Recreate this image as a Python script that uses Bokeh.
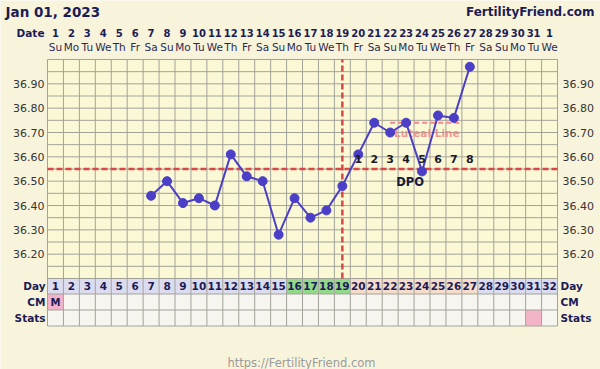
from bokeh.plotting import figure
from bokeh.models import Range1d, ColumnDataSource
from bokeh.core.properties import value
from bokeh.embed import file_html
from bokeh.resources import INLINE

# ---------------- data ----------------
title_date = "Jan 01, 2023"
site = "FertilityFriend.com"
footer = "https://FertilityFriend.com"

cycle_days = list(range(1, 33))
date_labels = [str(d) for d in range(1, 32)] + ["1"]
weekday_labels = ["Su", "Mo", "Tu", "We", "Th", "Fr", "Sa"] * 4 + ["Su", "Mo", "Tu", "We"]

temp_days = [7, 8, 9, 10, 11, 12, 13, 14, 15, 16, 17, 18, 19, 20, 21, 22, 23, 24, 25, 26, 27]
temps = [36.44, 36.50, 36.41, 36.43, 36.40, 36.61, 36.52, 36.50, 36.28, 36.43, 36.35,
         36.38, 36.48, 36.61, 36.74, 36.70, 36.74, 36.54, 36.77, 36.76, 36.97]

temp_ticks = [36.20, 36.30, 36.40, 36.50, 36.60, 36.70, 36.80, 36.90]
temp_min, temp_max = 36.10, 37.00
grid_step = 0.05

coverline = 36.55
ovulation_day = 19
luteal_level = 36.74
luteal_start, luteal_end = 22, 26.5

dpo_days = [20, 21, 22, 23, 24, 25, 26, 27]
dpo_labels = ["1", "2", "3", "4", "5", "6", "7", "8"]

fertile_days = [16, 17, 18, 19]
luteal_days = [20, 21, 22, 23, 24, 25, 26, 27]
cm_days = [1]
cm_labels = ["M"]
stats_days = [31]

# ---------------- geometry helpers ----------------
W = 510 / 32.0           # px per day
S = 219 / 0.9            # px per degree
GRID_LEFT_PX, GRID_TOP_PX = 47, 59


def ty(py):
    return temp_max - (py - GRID_TOP_PX) / S


def dx(px):
    return 0.5 + (px - GRID_LEFT_PX) / W


PAGE = "#f8f4dc"
GRIDBG = "#fbf8d5"
GRIDLINE = "#a3a39a"
NAVY = "#1c1c55"
LINEC = "#4a3fc6"
RED = "#d84848"
FONT = value("DejaVu Sans")

p = figure(width=600, height=369, x_range=Range1d(dx(0), dx(600)),
           y_range=Range1d(ty(369), ty(0)), output_backend="svg",
           toolbar_location=None, min_border=0)
p.axis.visible = False
p.grid.visible = False
p.outline_line_color = None
p.background_fill_color = PAGE
p.border_fill_color = PAGE

x_lo, x_hi = 0.5, 32.5
row_day = (ty(278), ty(293.5))
row_cm = (ty(293.5), ty(309.5))
row_stats = (ty(309.5), ty(325.5))

# chart background
p.quad(left=[x_lo], right=[x_hi], bottom=[temp_min], top=[temp_max],
       fill_color=GRIDBG, line_color=None)

# table backgrounds
day_colors = []
for d in cycle_days:
    if d in fertile_days:
        day_colors.append("#93d98a")
    elif d in luteal_days:
        day_colors.append("#f6dccb")
    else:
        day_colors.append("#dcdcf0")
p.quad(left=[d - 0.5 for d in cycle_days], right=[d + 0.5 for d in cycle_days],
       bottom=[row_day[1]] * 32, top=[row_day[0]] * 32, fill_color=day_colors, line_color=None)
p.quad(left=[x_lo, x_lo], right=[x_hi, x_hi], bottom=[row_cm[1], row_stats[1]],
       top=[row_cm[0], row_stats[0]], fill_color="#f6f5f0", line_color=None)
p.quad(left=[d - 0.5 for d in cm_days], right=[d + 0.5 for d in cm_days],
       bottom=[row_cm[1]] * len(cm_days), top=[row_cm[0]] * len(cm_days),
       fill_color="#f2b2cc", line_color=None)
p.quad(left=[d - 0.5 for d in stats_days], right=[d + 0.5 for d in stats_days],
       bottom=[row_stats[1]] * len(stats_days), top=[row_stats[0]] * len(stats_days),
       fill_color="#f4b4c8", line_color=None)

# grid lines
n_h = int(round((temp_max - temp_min) / grid_step))
hy = [temp_min + i * grid_step for i in range(n_h + 1)] + [row_day[1], row_cm[1], row_stats[1]]
p.segment(x0=[x_lo] * len(hy), x1=[x_hi] * len(hy), y0=hy, y1=hy,
          line_color=GRIDLINE, line_width=1)
vx = [d - 0.5 for d in cycle_days] + [x_hi]
p.segment(x0=vx, x1=vx, y0=[row_stats[1]] * len(vx), y1=[temp_max] * len(vx),
          line_color=GRIDLINE, line_width=1)

# coverline, ovulation line, luteal line
p.segment(x0=[x_lo], x1=[x_hi], y0=[coverline], y1=[coverline],
          line_color=RED, line_width=2.5, line_dash="6 3")
p.segment(x0=[ovulation_day], x1=[ovulation_day], y0=[temp_min], y1=[temp_max],
          line_color=RED, line_width=2.5, line_dash="6 3")
p.segment(x0=[luteal_start], x1=[luteal_end], y0=[luteal_level], y1=[luteal_level],
          line_color="#f08a8a", line_width=2, line_dash="5 3")
p.text(x=[(luteal_start + luteal_end + 0.5) / 2 - 0.2], y=[ty(132)], text=["Luteal Line"],
       text_font=FONT, text_font_size="10.5px", text_font_style="bold",
       text_color="#f08a8a", text_align="center", text_baseline="middle", text_alpha=0.9)

# temperature line
src = ColumnDataSource(dict(day=temp_days, temp=temps))
p.line("day", "temp", source=src, line_color=LINEC, line_width=2)
p.scatter("day", "temp", source=src, size=9, fill_color=LINEC, line_color=LINEC)

# DPO
p.text(x=dpo_days, y=[ty(158)] * len(dpo_days), text=dpo_labels, text_font=FONT,
       text_font_size="11px", text_font_style="bold", text_color="#1a1a2a",
       text_align="center", text_baseline="middle")
p.text(x=[23.25], y=[ty(181)], text=["DPO"], text_font=FONT, text_font_size="11.5px",
       text_font_style="bold", text_color="#1a1a3a", text_align="center", text_baseline="middle")

# temperature tick labels (left and right)
p.text(x=[dx(44)] * len(temp_ticks), y=temp_ticks, text=["%.2f" % t for t in temp_ticks],
       text_font=FONT, text_font_size="11px", text_color="#333333",
       text_align="right", text_baseline="middle")
p.text(x=[dx(562)] * len(temp_ticks), y=temp_ticks, text=["%.2f" % t for t in temp_ticks],
       text_font=FONT, text_font_size="11px", text_color="#333333",
       text_align="left", text_baseline="middle")

# header
p.text(x=[dx(5)], y=[ty(11)], text=[title_date], text_font=FONT, text_font_size="13.5px",
       text_font_style="bold", text_color=NAVY, text_align="left", text_baseline="middle")
p.text(x=[dx(594)], y=[ty(11.5)], text=[site], text_font=FONT, text_font_size="12px",
       text_font_style="bold", text_color=NAVY, text_align="right", text_baseline="middle")
p.text(x=[dx(44)], y=[ty(32.5)], text=["Date"], text_font=FONT, text_font_size="10.5px",
       text_font_style="bold", text_color=NAVY, text_align="right", text_baseline="middle")
p.text(x=cycle_days, y=[ty(32.5)] * 32, text=date_labels, text_font=FONT,
       text_font_size="10px", text_font_style="bold", text_color=NAVY,
       text_align="center", text_baseline="middle")
p.text(x=cycle_days, y=[ty(46.5)] * 32, text=weekday_labels, text_font=FONT,
       text_font_size="10.5px", text_color="#2a2a50",
       text_align="center", text_baseline="middle")

# table text
p.text(x=cycle_days, y=[(row_day[0] + row_day[1]) / 2] * 32, text=[str(d) for d in cycle_days],
       text_font=FONT, text_font_size="10.5px", text_font_style="bold", text_color=NAVY,
       text_align="center", text_baseline="middle")
p.text(x=cm_days, y=[(row_cm[0] + row_cm[1]) / 2] * len(cm_days), text=cm_labels,
       text_font=FONT, text_font_size="10px", text_font_style="bold", text_color=NAVY,
       text_align="center", text_baseline="middle")
row_names = ["Day", "CM", "Stats"]
row_ys = [(r[0] + r[1]) / 2 for r in (row_day, row_cm, row_stats)]
p.text(x=[dx(45)] * 3, y=row_ys, text=row_names, text_font=FONT, text_font_size="10.5px",
       text_font_style="bold", text_color=NAVY, text_align="right", text_baseline="middle")
p.text(x=[dx(560)] * 3, y=row_ys, text=row_names, text_font=FONT, text_font_size="10.5px",
       text_font_style="bold", text_color=NAVY, text_align="left", text_baseline="middle")

# footer
p.text(x=[dx(301)], y=[ty(362)], text=[footer], text_font=FONT, text_font_size="11.5px",
       text_color="#9a9a9a", text_align="center", text_baseline="middle")

open("out.html", "w").write(file_html(p, INLINE))
